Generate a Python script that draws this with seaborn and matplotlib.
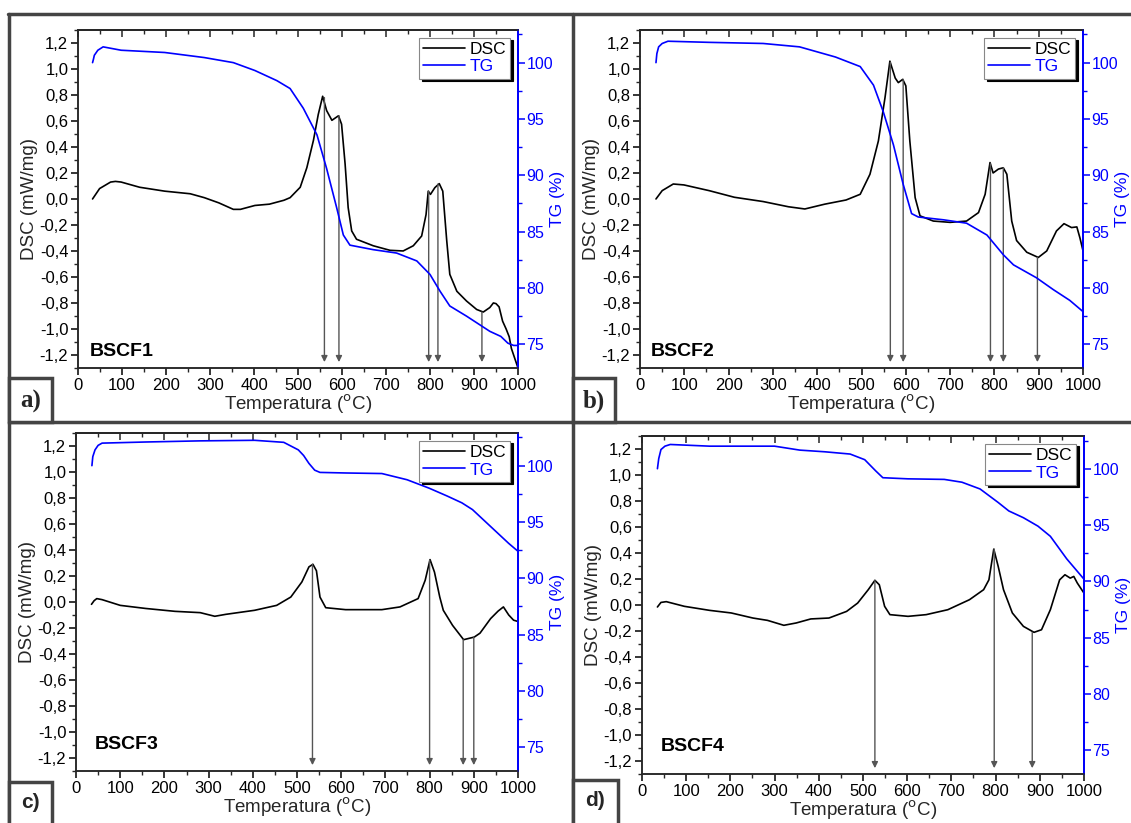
import numpy as np
import pandas as pd
import matplotlib
matplotlib.use("Agg")
import matplotlib.pyplot as plt
import seaborn as sns
from matplotlib.ticker import MultipleLocator, FuncFormatter, FixedLocator
from matplotlib.patches import Rectangle
from matplotlib.lines import Line2D

# ---------------- data ----------------
t_ticks = [0, 100, 200, 300, 400, 500, 600, 700, 800, 900, 1000]
dsc_ticks = [-1.2, -1.0, -0.8, -0.6, -0.4, -0.2, 0.0, 0.2, 0.4, 0.6, 0.8, 1.0, 1.2]
tg_ticks = [75, 80, 85, 90, 95, 100]

# Panel a) BSCF1
a_dsc_t = [33, 49, 74, 85, 98, 140, 197, 255, 287, 320, 353, 369, 402, 435, 468, 482, 505, 520, 535,
           546, 556, 565, 577, 592, 599, 607, 614, 622, 633, 671, 709, 739, 762, 781, 791, 796, 801,
           811, 821, 829, 838, 845, 861, 883, 906, 921, 936, 944, 950, 957, 965, 973, 980, 985, 992, 1000]
a_dsc = [0.0, 0.08, 0.13, 0.135, 0.13, 0.09, 0.06, 0.04, 0.01, -0.03, -0.08, -0.08, -0.05, -0.04, -0.01,
         0.01, 0.09, 0.24, 0.45, 0.65, 0.79, 0.68, 0.605, 0.64, 0.575, 0.27, -0.067, -0.246, -0.31,
         -0.36, -0.395, -0.40, -0.36, -0.285, -0.12, 0.06, 0.035, 0.087, 0.118, 0.06, -0.32, -0.58,
         -0.71, -0.785, -0.85, -0.87, -0.835, -0.80, -0.805, -0.83, -0.94, -1.00, -1.06, -1.15, -1.22,
         -1.30]
a_tg_t = [33, 35, 37, 45, 57, 98, 197, 287, 353, 402, 452, 482, 512, 543, 565, 588, 603, 618, 671, 724,
          770, 800, 823, 845, 883, 936, 961, 977, 990, 1000]
a_tg = [100.0, 100.3, 100.65, 101.1, 101.4, 101.1, 100.9, 100.45, 100.0, 99.3, 98.4, 97.7, 95.95, 93.6,
        90.6, 87.1, 84.7, 83.8, 83.4, 83.1, 82.4, 81.2, 79.7, 78.4, 77.5, 76.15, 75.7, 75.1, 74.9, 74.9]
a_arrow_t = [560, 593, 797, 818, 918]
a_arrow_v = [0.78, 0.64, 0.06, 0.115, -0.87]

# Panel b) BSCF2
b_dsc_t = [36, 50, 75, 99, 156, 213, 278, 335, 372, 417, 465, 497, 519, 538, 553, 564, 576, 583, 593,
           600, 609, 621, 632, 662, 700, 737, 764, 779, 790, 797, 809, 820, 828, 839, 850, 873, 899, 918,
           940, 957, 974, 986, 993, 1000]
b_dsc = [0.0, 0.064, 0.115, 0.108, 0.064, 0.013, -0.02, -0.06, -0.077, -0.04, -0.008, 0.036, 0.19,
         0.446, 0.78, 1.06, 0.93, 0.895, 0.92, 0.87, 0.446, 0.01, -0.13, -0.17, -0.18, -0.17, -0.105,
         0.036, 0.28, 0.20, 0.23, 0.24, 0.19, -0.17, -0.32, -0.41, -0.45, -0.40, -0.246, -0.19, -0.22,
         -0.215, -0.30, -0.40]
b_tg_t = [36, 38, 42, 50, 63, 156, 278, 360, 441, 497, 527, 549, 572, 594, 613, 628, 685, 737, 783, 820,
          843, 895, 933, 970, 1000]
b_tg = [100.0, 100.8, 101.4, 101.7, 101.9, 101.8, 101.7, 101.4, 100.5, 99.65, 98.0, 95.65, 92.7, 89.2,
        86.6, 86.3, 86.05, 85.75, 84.7, 82.95, 82.05, 80.9, 79.85, 78.9, 77.9]
b_arrow_t = [565, 594, 791, 820, 897]
b_arrow_v = [1.05, 0.92, 0.27, 0.24, -0.45]

# Panel c) BSCF3
c_dsc_t = [35, 41, 47, 59, 100, 158, 224, 281, 314, 339, 404, 454, 486, 511, 527, 536, 544, 552, 565,
           610, 692, 733, 774, 790, 801, 811, 823, 831, 852, 877, 889, 901, 914, 938, 955, 967, 979, 990,
           1000]
c_dsc = [-0.018, 0.01, 0.026, 0.018, -0.026, -0.05, -0.072, -0.082, -0.11, -0.095, -0.064, -0.026,
         0.038, 0.154, 0.27, 0.29, 0.24, 0.038, -0.044, -0.059, -0.059, -0.038, 0.026, 0.167, 0.326, 0.23,
         0.038, -0.064, -0.18, -0.29, -0.28, -0.27, -0.24, -0.128, -0.07, -0.038, -0.10, -0.14, -0.15]
c_tg_t = [36, 38, 43, 50, 59, 158, 281, 404, 470, 503, 515, 527, 540, 552, 610, 692, 749, 799, 840, 873,
          897, 938, 979, 1000]
c_tg = [100.0, 100.8, 101.4, 101.8, 102.0, 102.1, 102.2, 102.25, 102.07, 101.4, 100.9, 100.2, 99.6,
        99.4, 99.35, 99.3, 98.75, 98.0, 97.3, 96.7, 96.1, 94.6, 93.1, 92.4]
c_arrow_t = [535, 800, 876, 900]
c_arrow_v = [0.29, 0.32, -0.29, -0.27]

# Panel d) BSCF4
d_dsc_t = [35, 43, 55, 96, 153, 202, 251, 284, 321, 349, 382, 423, 463, 488, 512, 527, 537, 549, 561,
           602, 643, 692, 741, 773, 785, 796, 806, 818, 838, 863, 887, 904, 924, 945, 957, 969, 977, 985,
           1000]
d_dsc = [-0.015, 0.02, 0.026, -0.01, -0.041, -0.061, -0.10, -0.118, -0.156, -0.138, -0.107, -0.10,
         -0.049, 0.015, 0.118, 0.19, 0.156, -0.01, -0.074, -0.087, -0.074, -0.036, 0.041, 0.118, 0.194,
         0.43, 0.297, 0.118, -0.061, -0.164, -0.21, -0.19, -0.036, 0.194, 0.233, 0.207, 0.22, 0.169, 0.092]
d_tg_t = [35, 38, 43, 52, 64, 153, 300, 357, 414, 471, 504, 529, 545, 602, 684, 724, 765, 806, 830, 863,
          896, 924, 961, 1000]
d_tg = [100.0, 100.9, 101.7, 102.0, 102.15, 102.0, 102.0, 101.65, 101.5, 101.3, 100.8, 99.8, 99.2, 99.1,
        99.05, 98.8, 98.2, 97.0, 96.25, 95.65, 94.9, 94.0, 92.0, 90.2]
d_arrow_t = [527, 797, 883]
d_arrow_v = [0.19, 0.43, -0.21]

# ---------------- styling ----------------
sns.set_theme(style="ticks")
plt.rcParams['font.family'] = ['Liberation Sans', 'DejaVu Sans']
plt.rcParams['axes.linewidth'] = 1.1

TG_BLUE = '#0000ff'
FRAME = '#444444'

fig = plt.figure(figsize=(11.31, 8.23), dpi=100)
fig.patch.set_facecolor('white')

panels = [
    dict(name="BSCF1", tag="a)", tagserif=True, dsc_t=a_dsc_t, dsc=a_dsc, tg_t=a_tg_t, tg=a_tg,
         arr_t=a_arrow_t, arr_v=a_arrow_v, rect=[0.0690, 0.5529, 0.3890, 0.4107],
         text_xy=(27, -1.17), tagbox=(9, 378, 43, 44)),
    dict(name="BSCF2", tag="b)", tagserif=True, dsc_t=b_dsc_t, dsc=b_dsc, tg_t=b_tg_t, tg=b_tg,
         arr_t=b_arrow_t, arr_v=b_arrow_v, rect=[0.5659, 0.5529, 0.3917, 0.4107],
         text_xy=(25, -1.17), tagbox=(573, 378, 42, 44)),
    dict(name="BSCF3", tag="c)", tagserif=False, dsc_t=c_dsc_t, dsc=c_dsc, tg_t=c_tg_t, tg=c_tg,
         arr_t=c_arrow_t, arr_v=c_arrow_v, rect=[0.0672, 0.0632, 0.3908, 0.4107],
         text_xy=(43, -1.10), tagbox=(9, 782, 43, 50)),
    dict(name="BSCF4", tag="d)", tagserif=False, dsc_t=d_dsc_t, dsc=d_dsc, tg_t=d_tg_t, tg=d_tg,
         arr_t=d_arrow_t, arr_v=d_arrow_v, rect=[0.5676, 0.0595, 0.3908, 0.4107],
         text_xy=(43, -1.09), tagbox=(573, 780, 45, 50)),
]

comma_fmt = FuncFormatter(lambda v, p: f"{(0.0 if abs(v) < 1e-9 else v):.1f}".replace('.', ','))

W, H = 1131.0, 823.0

for p in panels:
    ax = fig.add_axes(p['rect'])
    ax.set_facecolor('white')
    dsc_df = pd.DataFrame({'T': p['dsc_t'], 'DSC': p['dsc']})
    tg_df = pd.DataFrame({'T': p['tg_t'], 'TG': p['tg']})

    sns.lineplot(data=dsc_df, x='T', y='DSC', ax=ax, color='black', lw=1.2,
                 estimator=None, sort=False, label='DSC', legend=False)
    ax.set_xlim(0, 1000)
    ax.set_ylim(-1.3, 1.3)
    ax.xaxis.set_major_locator(FixedLocator(t_ticks))
    ax.xaxis.set_minor_locator(MultipleLocator(50))
    ax.yaxis.set_major_locator(FixedLocator(dsc_ticks))
    ax.yaxis.set_minor_locator(MultipleLocator(0.1))
    ax.yaxis.set_major_formatter(comma_fmt)
    ax.tick_params(axis='both', which='major', direction='out', length=5, width=1.1,
                   labelsize=12, colors='black', pad=2)
    ax.tick_params(axis='both', which='minor', direction='out', length=3, width=1.0)
    ax.set_xlabel('Temperatura ($^{\\rm o}$C)', fontsize=13.5, labelpad=0)
    ax.set_ylabel('DSC (mW/mg)', fontsize=13.5, labelpad=1)

    # top mirrored ticks pointing inward
    sec = ax.secondary_xaxis('top')
    sec.xaxis.set_major_locator(FixedLocator(t_ticks))
    sec.xaxis.set_minor_locator(MultipleLocator(50))
    sec.tick_params(axis='x', which='major', direction='in', length=5, width=1.1, labeltop=False)
    sec.tick_params(axis='x', which='minor', direction='in', length=3, width=1.0)

    # arrows
    for t, v in zip(p['arr_t'], p['arr_v']):
        ax.annotate('', xy=(t, -1.255), xytext=(t, v),
                    arrowprops=dict(arrowstyle='-|>', color='#555555', lw=1.0,
                                    mutation_scale=9, shrinkA=0, shrinkB=0))

    ax.text(p['text_xy'][0], p['text_xy'][1], p['name'], fontsize=14, fontweight='bold',
            ha='left', va='center', color='black')

    ax2 = ax.twinx()
    sns.lineplot(data=tg_df, x='T', y='TG', ax=ax2, color=TG_BLUE, lw=1.2,
                 estimator=None, sort=False, label='TG', legend=False)
    ax2.set_ylim(72.9, 102.9)
    ax2.yaxis.set_major_locator(FixedLocator(tg_ticks))
    ax2.yaxis.set_minor_locator(MultipleLocator(2.5))
    ax2.tick_params(axis='y', which='major', direction='out', length=5, width=1.1,
                    labelsize=11.5, colors=TG_BLUE, pad=1)
    ax2.tick_params(axis='y', which='minor', direction='out', length=3, width=1.0, colors=TG_BLUE)
    ax2.spines['right'].set_color(TG_BLUE)
    ax2.spines['right'].set_linewidth(1.4)
    ax2.set_ylabel('TG (%)', fontsize=12.5, color=TG_BLUE, labelpad=-2)
    ax2.set_xlabel('')

    h1 = ax.get_lines()[0]
    h2 = ax2.get_lines()[0]
    leg = ax2.legend([h1, h2], ['DSC', 'TG'], loc='upper right', fontsize=12.5,
                     frameon=True, fancybox=False, framealpha=1, edgecolor='#888888',
                     shadow={'ox': 2.0, 'oy': -1.5, 'color': 'black', 'alpha': 1},
                     labelcolor='linecolor', handlelength=2.4, handletextpad=0.25,
                     labelspacing=0.12, borderpad=0.25, borderaxespad=0.45)
    leg.get_frame().set_linewidth(0.8)

    # tag box
    bx, by, bw, bh = p['tagbox']
    fig.add_artist(Rectangle((bx / W, 1 - (by + bh) / H), bw / W, bh / H, transform=fig.transFigure,
                             facecolor='white', edgecolor=FRAME, lw=2.5, zorder=10))
    if p['tagserif']:
        fig.text((bx + bw / 2) / W, 1 - (by + 23) / H, p['tag'], family='Liberation Serif',
                 fontweight='bold', fontsize=18, ha='center', va='center', zorder=11)
    else:
        fig.text((bx + bw / 2) / W, 1 - (by + 21) / H, p['tag'], fontweight='bold',
                 fontsize=15, ha='center', va='center', zorder=11)

# panel frame lines
def fline(x0, y0, x1, y1):
    fig.add_artist(Line2D([x0 / W, x1 / W], [1 - y0 / H, 1 - y1 / H], transform=fig.transFigure,
                          color=FRAME, lw=2.5, zorder=9))

fline(8, 14, 1131, 14)
fline(9, 14, 9, 823)
fline(573, 14, 573, 823)
fline(9, 422, 1131, 422)

fig.savefig('out.png', dpi=100, facecolor='white')
